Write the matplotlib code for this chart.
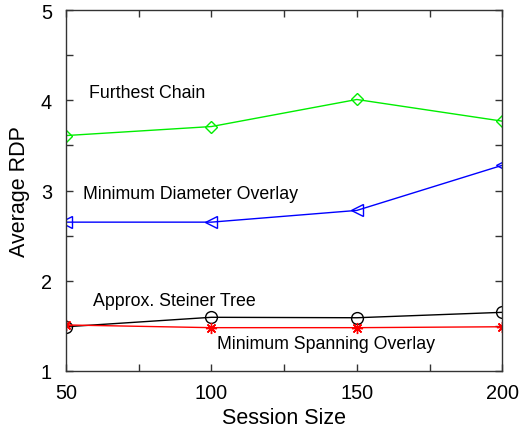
import matplotlib.pyplot as plt
import numpy as np

plt.rcParams['font.family'] = ['Liberation Sans', 'DejaVu Sans']

sizes = [50, 100, 150, 200]
furthest_chain = [3.61, 3.71, 4.01, 3.77]
min_diameter = [2.65, 2.65, 2.78, 3.28]
steiner_tree = [1.49, 1.595, 1.59, 1.65]
min_spanning = [1.51, 1.48, 1.48, 1.49]


def main():
    fig = plt.figure(figsize=(5.32, 4.31), dpi=100)
    ax = fig.add_axes([0.124, 0.137, 0.820, 0.837])

    ax.plot(sizes, furthest_chain, color="#00ee00", lw=1, marker="D",
            ms=6.5, mfc="none", mew=1)
    ax.plot(sizes, min_diameter, color="#0000ff", lw=1, marker="<",
            ms=9, mfc="none", mew=1)
    ax.plot(sizes, steiner_tree, color="black", lw=1, marker="o",
            ms=8.5, mfc="none", mew=1)
    ax.plot(sizes, min_spanning, color="#ff0000", lw=1, marker=(8, 2, 0),
            ms=8, mew=1)

    ax.text(58.0, 4.09, "Furthest Chain", fontsize=12.8, va="center")
    ax.text(56.0, 2.97, "Minimum Diameter Overlay", fontsize=12.8, va="center")
    ax.text(59.2, 1.78, "Approx. Steiner Tree", fontsize=12.8, va="center")
    ax.text(102, 1.30, "Minimum Spanning Overlay", fontsize=12.8, va="center")

    ax.set_xlim(50, 200)
    ax.set_ylim(1, 5)
    ax.set_xticks(np.arange(50, 201, 25))
    ax.set_xticklabels(["50", "", "100", "", "150", "", "200"])
    ax.set_yticks(np.arange(1, 5.01, 0.5))
    ax.set_yticklabels(["1", "", "2", "", "3", "", "4", "", "5"])
    ax.tick_params(direction="in", length=5, width=1, labelsize=14.3,
                   top=True, right=True, color="#333333")
    ax.tick_params(axis="x", pad=9)
    ax.tick_params(axis="y", pad=10)
    for s in ax.spines.values():
        s.set_color("#333333")
        s.set_linewidth(1)

    ax.set_xlabel("Session Size", fontsize=15.5, labelpad=3)
    ax.set_ylabel("Average RDP", fontsize=15.5, labelpad=8)

    fig.savefig("out.png", dpi=100)


if __name__ == "__main__":
    main()
